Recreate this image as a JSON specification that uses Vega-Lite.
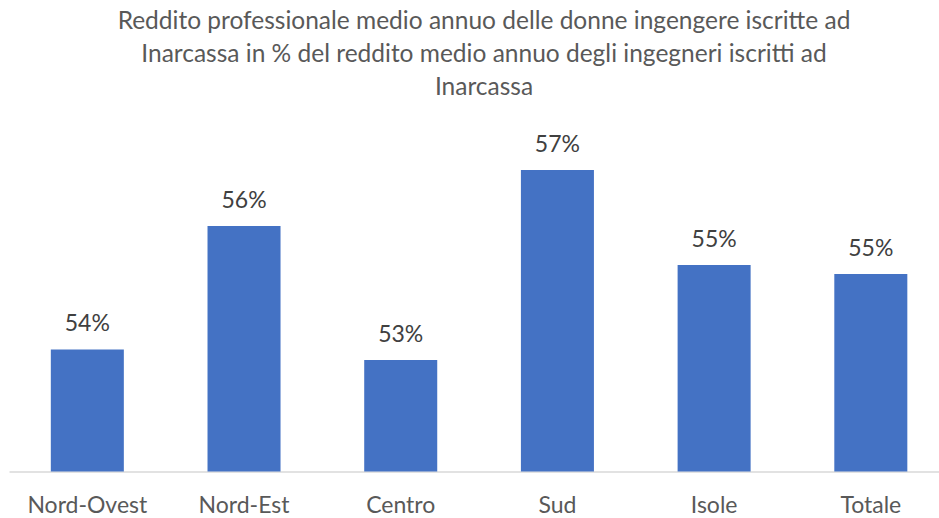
{
  "$schema": "https://vega.github.io/schema/vega-lite/v6.json",
  "width": 930,
  "height": 380,
  "autosize": {"type": "none"},
  "padding": {"left": 9, "top": 91.5, "right": 0, "bottom": 46.5},
  "background": "white",
  "title": {
    "text": ["Reddito professionale medio annuo delle donne ingengere iscritte ad", "Inarcassa in % del reddito medio annuo degli ingegneri iscritti ad", "Inarcassa"],
    "anchor": "middle",
    "frame": "group",
    "font": "Lato",
    "fontSize": 24.5,
    "fontWeight": "normal",
    "color": "#595959",
    "lineHeight": 33,
    "offset": -9,
    "dx": 10
  },
  "config": {"view": {"stroke": null}},
  "data": {
    "values": [
      {"area": "Nord-Ovest", "valore": 0.5357},
      {"area": "Nord-Est", "valore": 0.5617},
      {"area": "Centro", "valore": 0.5335},
      {"area": "Sud", "valore": 0.5735},
      {"area": "Isole", "valore": 0.5535},
      {"area": "Totale", "valore": 0.5516}
    ]
  },
  "encoding": {
    "x": {
      "field": "area",
      "type": "nominal",
      "sort": null,
      "scale": {"paddingInner": 0.534, "paddingOuter": 0.2345, "align": 0.569},
      "axis": {
        "title": null,
        "labelAngle": 0,
        "labelFont": "Lato",
        "labelFontSize": 23,
        "labelColor": "#595959",
        "labelPadding": 23,
        "ticks": false,
        "domainColor": "#D9D9D9",
        "domainWidth": 1.5
      }
    },
    "y": {
      "field": "valore",
      "type": "quantitative",
      "scale": {"domain": [0.51, 0.59], "zero": false, "nice": false},
      "axis": null
    }
  },
  "layer": [
    {"mark": {"type": "bar", "color": "#4472C4", "clip": true}},
    {
      "mark": {"type": "text", "baseline": "alphabetic", "dy": -18, "font": "Lato", "fontSize": 23, "color": "#404040"},
      "encoding": {"text": {"field": "valore", "type": "quantitative", "format": ".0%"}}
    }
  ]
}
